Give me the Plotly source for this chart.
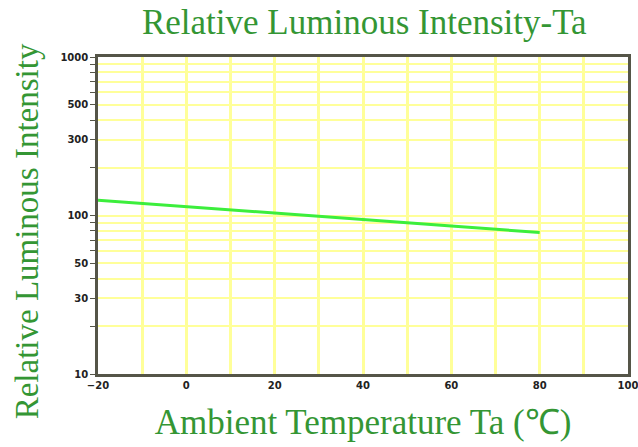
import plotly.graph_objects as go

# Data
temp_c = [-20, 0, 20, 40, 60, 80]
rel_intensity = [125, 114, 104, 95, 86, 78]

y_grid_vals = [10, 20, 30, 40, 50, 60, 70, 80, 90,
               100, 200, 300, 400, 500, 600, 700, 800, 900, 1000]
y_label_vals = [10, 30, 50, 100, 300, 500, 1000]
x_grid_vals = [-20, -10, 0, 10, 20, 30, 40, 50, 60, 70, 80, 90, 100]
x_label_vals = [-20, 0, 20, 40, 60, 80, 100]

title_text = "Relative Luminous Intensity-Ta"
x_title = "Ambient Temperature Ta (℃)"
y_title = "Relative Luminous Intensity"

GREEN_TEXT = "#349634"
LINE_GREEN = "#3cee3c"
GRID = "#ffff99"
AXIS = "#555548"

def fmt(v):
    return ("−" + str(-v)) if v < 0 else str(v)

fig = go.Figure()
fig.add_trace(go.Scatter(
    x=temp_c, y=rel_intensity, mode="lines",
    line=dict(color=LINE_GREEN, width=3), showlegend=False,
))

tick_font = dict(family="DejaVu Sans", size=10, color="#222222", weight="bold")
title_font = dict(family="Liberation Serif", color=GREEN_TEXT)

fig.update_layout(
    width=638, height=447,
    margin=dict(l=98, r=10, t=57, b=73),
    paper_bgcolor="white", plot_bgcolor="white",
    title=dict(text=title_text, x=0.571, xanchor="center",
               y=1 - 22 / 447, yanchor="middle", yref="container",
               font=dict(size=35, **title_font)),
    xaxis=dict(
        range=[-20, 100], tickmode="array", tickvals=x_grid_vals,
        ticktext=[fmt(v) if v in x_label_vals else "" for v in x_grid_vals],
        showgrid=True, gridcolor=GRID, gridwidth=2.5,
        showline=True, linecolor=AXIS, linewidth=2.5, mirror=True,
        ticks="", tickfont=tick_font, zeroline=False, automargin=False,
        ticklabeloverflow="allow",
        title=dict(text=x_title, font=dict(size=35, **title_font), standoff=20),
    ),
    yaxis=dict(
        type="log", range=[1, 3], tickmode="array", tickvals=y_grid_vals,
        ticktext=[str(v) if v in y_label_vals else "" for v in y_grid_vals],
        showgrid=True, gridcolor=GRID, gridwidth=1.5,
        showline=True, linecolor=AXIS, linewidth=2.5, mirror=True,
        ticks="outside", ticklen=5, tickcolor=AXIS, tickwidth=1,
        tickfont=tick_font, zeroline=False, automargin=False,
    ),
    annotations=[dict(
        text=y_title, textangle=-90, showarrow=False,
        xref="paper", yref="paper", x=-0.134, y=0.45,
        xanchor="center", yanchor="middle",
        font=dict(size=33, **title_font),
    )],
)

fig.write_html("out.html")
